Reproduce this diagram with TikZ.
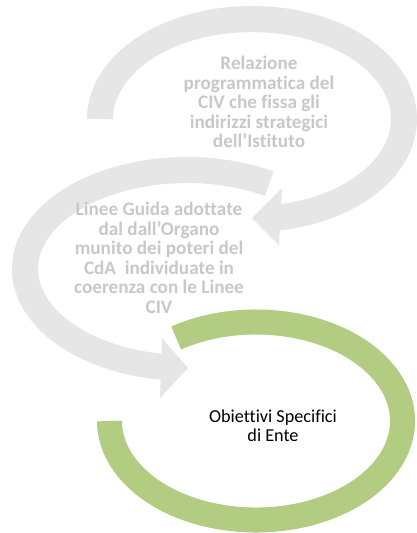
\documentclass[tikz,border=0pt]{standalone}
\usepackage{fontspec}
\setmainfont{Carlito}[Ligatures=NoCommon]
\definecolor{bandgray}{HTML}{E6E6E6}
\definecolor{txtgray}{HTML}{C8C8C8}
\definecolor{bandgreen}{HTML}{B2CC82}
\begin{document}
\begin{tikzpicture}[x=1pt,y=-1pt,
  band/.style={line width=26pt},
  grayhead/.style={fill=bandgray,draw=none},
  graytext/.style={font=\fontsize{19.2}{19.5}\selectfont\bfseries,text=txtgray,align=center,inner sep=0pt},
  blacktext/.style={font=\fontsize{18.2}{18.8}\selectfont,text=black,align=center,inner sep=0pt}]
\useasboundingbox (0,0) rectangle (416,533);
\fill[white] (0,0) rectangle (416,533);
% arc 1
\coordinate (c1) at (252,119);
\draw[band,bandgray] (c1) ++(180:152 and 100) arc[start angle=180,end angle=444,x radius=152,y radius=100];
\fill[grayhead] (282,188) -- (279,245) -- (252,218) -- cycle;
% arc 2
\coordinate (c2) at (187,269);
\draw[band,bandgray] (c2) ++(300.5:162 and 99) arc[start angle=300.5,end angle=95,x radius=162,y radius=99];
\fill[grayhead] (162,338) -- (160,398) -- (188,368) -- cycle;
% arc 3
\coordinate (c3) at (256,421);
\draw[line width=25pt,bandgreen] (c3) ++(237:146.5 and 99) arc[start angle=237,end angle=540,x radius=146.5,y radius=99];
% texts
\node[graytext] (t1) at (259,101.9) {Relazione\\programmatica del\\CIV che fissa gli\\indirizzi strategici\\dell’Istituto};
\node[graytext] (t2) at (159,257.7) {Linee Guida adottate\\dal dall’Organo\\munito dei poteri del\\CdA\ \ individuate in\\coerenza con le Linee\\CIV};
\node[blacktext] (t3) at (273,426.1) {Obiettivi Specifici\\di Ente};
\end{tikzpicture}
\end{document}
